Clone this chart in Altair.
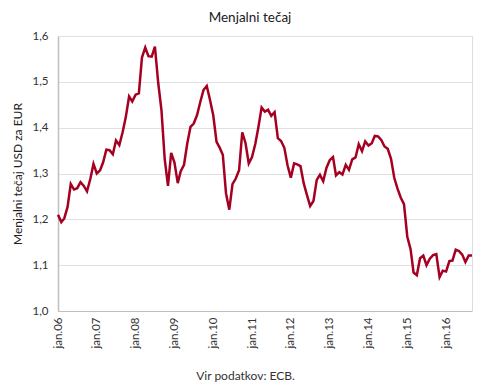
import altair as alt
import pandas as pd

# Monthly EUR/USD exchange rate, Jan 2006 - Sep 2016
RATE_2006 = [1.210, 1.194, 1.202, 1.227, 1.277, 1.265, 1.268, 1.281, 1.273, 1.261, 1.288, 1.321]
RATE_2007 = [1.300, 1.307, 1.324, 1.352, 1.351, 1.342, 1.372, 1.362, 1.390, 1.423, 1.468, 1.457]
RATE_2008 = [1.472, 1.475, 1.553, 1.575, 1.556, 1.555, 1.577, 1.498, 1.437, 1.332, 1.273, 1.345]
RATE_2009 = [1.324, 1.279, 1.305, 1.319, 1.365, 1.402, 1.409, 1.427, 1.456, 1.482, 1.491, 1.461]
RATE_2010 = [1.427, 1.369, 1.357, 1.341, 1.257, 1.221, 1.277, 1.289, 1.307, 1.390, 1.366, 1.322]
RATE_2011 = [1.336, 1.365, 1.400, 1.444, 1.435, 1.439, 1.426, 1.434, 1.377, 1.371, 1.356, 1.318]
RATE_2012 = [1.291, 1.322, 1.320, 1.316, 1.279, 1.253, 1.229, 1.240, 1.286, 1.297, 1.283, 1.312]
RATE_2013 = [1.329, 1.336, 1.296, 1.303, 1.298, 1.319, 1.308, 1.331, 1.335, 1.364, 1.349, 1.370]
RATE_2014 = [1.361, 1.366, 1.382, 1.381, 1.373, 1.359, 1.354, 1.332, 1.290, 1.267, 1.247, 1.233]
RATE_2015 = [1.162, 1.135, 1.084, 1.078, 1.115, 1.121, 1.100, 1.114, 1.122, 1.124, 1.074, 1.088]
RATE_2016 = [1.086, 1.109, 1.110, 1.134, 1.131, 1.123, 1.107, 1.121, 1.121]

YEARS = [2006, 2007, 2008, 2009, 2010, 2011, 2012, 2013, 2014, 2015, 2016]
TICK_LABELS = ["jan.06", "jan.07", "jan.08", "jan.09", "jan.10", "jan.11",
               "jan.12", "jan.13", "jan.14", "jan.15", "jan.16"]
Y_TICKS = [1.0, 1.1, 1.2, 1.3, 1.4, 1.5, 1.6]

TITLE = "Menjalni tečaj"
Y_TITLE = "Menjalni tečaj USD za EUR"
SOURCE = "Vir podatkov: ECB."

series = [RATE_2006, RATE_2007, RATE_2008, RATE_2009, RATE_2010, RATE_2011,
          RATE_2012, RATE_2013, RATE_2014, RATE_2015, RATE_2016]
rows = []
for yr, vals in zip(YEARS, series):
    for m, v in enumerate(vals):
        rows.append({"date": f"{yr}-{m + 1:02d}-01T00:00:00Z", "rate": v})
df = pd.DataFrame(rows)

FONT = "Lato"
label_array = "[" + ",".join(f"'{t}'" for t in TICK_LABELS) + "]"

x_axis = alt.Axis(
    values=[alt.DateTime(year=y, month=1, date=1, utc=True) for y in YEARS],
    labelExpr=f"{label_array}[utcyear(datum.value) - {YEARS[0]}]",
    labelAngle=-90, labelFont=FONT, labelFontSize=11.5, labelColor="#333333",
    labelPadding=6, ticks=False, grid=False,
    domainColor="#bfbfbf", domainWidth=1,
    title=SOURCE, titleFont=FONT, titleFontSize=12, titleFontWeight="normal",
    titleColor="#333333", titleX=187, titleY=64, titleBaseline="middle",
    titleAnchor="middle", titleAlign="center",
)

y_axis = alt.Axis(
    values=Y_TICKS,
    labelExpr="replace(format(datum.value, '.1f'), '.', ',')",
    labelFont=FONT, labelFontSize=11.5, labelColor="#333333", labelPadding=10,
    ticks=False, grid=True, gridColor="#e0e0e0", gridWidth=1,
    domainColor="#bfbfbf", domainWidth=1.5,
    title=Y_TITLE, titleFont=FONT, titleFontSize=12, titleFontWeight="normal",
    titleColor="#202020", titlePadding=8,
)

chart = alt.Chart(df).mark_line(color="#A50021", strokeWidth=2.5).encode(
    x=alt.X("date:T", scale=alt.Scale(type="utc", nice=False,
            domain=[alt.DateTime(year=2006, month=1, date=1, utc=True),
                    alt.DateTime(year=2016, month=9, date=1, utc=True)]),
            axis=x_axis),
    y=alt.Y("rate:Q", scale=alt.Scale(domain=[1.0, 1.6], nice=False, zero=False),
            axis=y_axis),
).properties(
    width=414, height=275,
    title=alt.TitleParams(TITLE, font=FONT, fontSize=13.5, fontWeight="normal",
                          color="#202020", anchor="middle", dx=-15, offset=6),
    autosize=alt.AutoSizeParams(type="none"),
    padding={"left": 50, "top": 28, "right": 10, "bottom": 82},
).configure_view(stroke="#d9d9d9", strokeWidth=1).configure(background="white")

chart.save("out.html", embed_options={"renderer": "svg", "actions": False})
